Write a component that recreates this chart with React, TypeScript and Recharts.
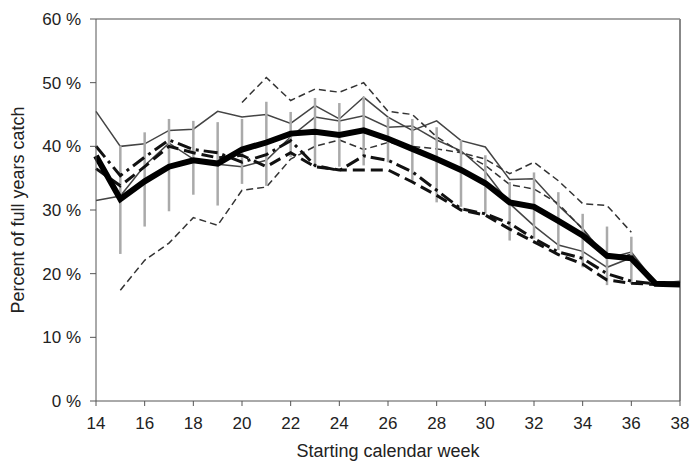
import { ErrorBar, Label, Line, LineChart, ReferenceLine, XAxis, YAxis } from "recharts";

const weeks = [14, 15, 16, 17, 18, 19, 20, 21, 22, 23, 24, 25, 26, 27, 28, 29, 30, 31, 32, 33, 34, 35, 36, 37, 38];
const xTicks = [14, 16, 18, 20, 22, 24, 26, 28, 30, 32, 34, 36, 38];
const yTicks = [0, 10, 20, 30, 40, 50, 60];

// average over years (thick line) and its spread (grey bars)
const mean = [38.5, 31.7, 34.5, 36.8, 37.8, 37.3, 39.5, 40.6, 42.0, 42.3, 41.8, 42.5, 41.2, 39.6, 38.0, 36.3, 34.2, 31.2, 30.5, 28.3, 26.0, 22.8, 22.4, 18.4, 18.3];
const barLow = [null, 23.1, 27.4, 29.8, 32.4, 30.7, 34.1, 33.8, 38.3, 36.7, 36.8, 37.0, 37.5, 34.6, 31.2, 30.5, 29.4, 25.2, 25.5, 23.7, 21.0, 18.2, 18.4, null, null];
const barHigh = [null, 40.1, 42.2, 44.3, 44.0, 43.8, 44.3, 47.0, 45.4, 47.6, 46.8, 47.8, 44.6, 44.3, 43.0, 41.0, 38.6, 34.4, 35.9, 32.8, 29.4, 27.4, 25.8, null, null];

// single years
const solidA = [45.5, 40.0, 40.4, 42.5, 42.7, 45.5, 44.6, 45.0, 43.6, 46.4, 44.3, 47.7, 44.6, 42.5, 44.0, 40.9, 39.9, 34.8, 34.9, 30.7, 27.1, 22.4, 23.4, 18.5, 18.8];
const solidB = [31.5, 32.2, 37.0, 40.5, 38.0, 37.2, 36.8, 37.8, 41.5, 44.6, 44.0, 44.8, 43.0, 43.2, 41.0, 39.3, 36.0, 31.0, 27.5, 24.5, 23.5, 21.0, 22.5, 18.5, 18.6];
const dashDot = [40.0, 35.4, 38.3, 41.0, 39.5, 39.0, 37.5, 38.7, 40.9, 37.0, 36.2, 38.5, 37.8, 36.0, 33.1, 30.2, 29.4, 27.9, 25.5, 23.4, 22.4, 20.0, 18.8, 18.4, 18.3];
const longDash = [36.5, 33.8, 36.8, 40.0, 39.0, 38.2, 38.6, 36.8, 39.0, 36.8, 36.3, 36.3, 36.3, 34.4, 32.3, 30.0, 29.2, 27.0, 25.0, 23.0, 21.5, 19.0, 18.5, 18.3, 18.3];
const dashLow = [null, 17.4, 22.1, 24.8, 28.8, 27.6, 33.1, 33.6, 38.0, 40.0, 41.0, 39.5, 40.6, 40.0, 39.6, 39.0, 37.0, 34.0, 33.3, 31.0, 27.0, 22.5, 23.0, 18.5, 18.6];
const dashTop = [null, null, null, null, null, null, 46.9, 50.8, 47.2, 49.0, 48.5, 50.0, 45.5, 45.0, 41.5, 39.0, 38.0, 35.7, 37.5, 34.6, 31.0, 30.7, 26.5, null, null];

const data = weeks.map((week, i) => ({
  week,
  mean: mean[i],
  low: barLow[i],
  high: barHigh[i],
  solidA: solidA[i],
  solidB: solidB[i],
  dashDot: dashDot[i],
  longDash: longDash[i],
  dashLow: dashLow[i],
  dashTop: dashTop[i],
}));

const font = '"Liberation Sans", Arial, sans-serif';
const tickStyle = { fontFamily: font, fontSize: 17, fill: "#222" };

const errRange = (d: any) =>
  d.low == null || d.high == null ? [0, 0] : [d.mean - d.low, d.high - d.mean];

export default function App() {
  return (
    <div style={{ position: "absolute", left: 0, top: 0, background: "#fff" }}>
      <LineChart width={691} height={463} data={data} margin={{ top: 19, right: 11, bottom: 0, left: 0 }}>
        <XAxis
          dataKey="week"
          type="number"
          domain={[14, 38]}
          ticks={xTicks}
          stroke="#555"
          tickSize={5}
          tickMargin={11}
          tick={tickStyle}
          height={62}
        >
          <Label
            content={({ viewBox }: any) => (
              <text
                x={viewBox.x + viewBox.width / 2}
                y={457}
                textAnchor="middle"
                style={{ fontFamily: font, fontSize: 18, fill: "#222" }}
              >
                Starting calendar week
              </text>
            )}
          />
        </XAxis>
        <YAxis
          domain={[0, 60]}
          ticks={yTicks}
          stroke="#555"
          tickSize={6}
          tickMargin={9}
          tick={tickStyle}
          width={96}
          tickFormatter={(v) => `${v} %`}
        >
          <Label
            content={({ viewBox }: any) => {
              const cy = viewBox.y + viewBox.height / 2;
              return (
                <text
                  x={24}
                  y={cy}
                  transform={`rotate(-90 24 ${cy})`}
                  textAnchor="middle"
                  style={{ fontFamily: font, fontSize: 18, fill: "#222" }}
                >
                  Percent of full years catch
                </text>
              );
            }}
          />
        </YAxis>
        <ReferenceLine y={60} stroke="#888" strokeWidth={1.5} />
        <ReferenceLine x={38} stroke="#888" strokeWidth={2} />

        <Line dataKey="solidA" stroke="#444" strokeWidth={1.5} dot={false} isAnimationActive={false} />
        <Line dataKey="solidB" stroke="#444" strokeWidth={1.5} dot={false} isAnimationActive={false} />
        <Line dataKey="dashLow" stroke="#333" strokeWidth={1.5} strokeDasharray="7 4" dot={false} isAnimationActive={false} />
        <Line dataKey="dashTop" stroke="#333" strokeWidth={1.5} strokeDasharray="7 4" dot={false} isAnimationActive={false} />
        <Line dataKey="mean" stroke="none" dot={false} activeDot={false} isAnimationActive={false}>
          <ErrorBar dataKey={errRange} width={0} stroke="#aaa" strokeWidth={2.5} direction="y" isAnimationActive={false} />
        </Line>
        <Line dataKey="longDash" stroke="#111" strokeWidth={3} strokeDasharray="12 6" dot={false} isAnimationActive={false} />
        <Line dataKey="dashDot" stroke="#111" strokeWidth={3} strokeDasharray="14 5 3 5" dot={false} isAnimationActive={false} />
        <Line dataKey="mean" stroke="#000" strokeWidth={6} dot={false} isAnimationActive={false} />
      </LineChart>
    </div>
  );
}
